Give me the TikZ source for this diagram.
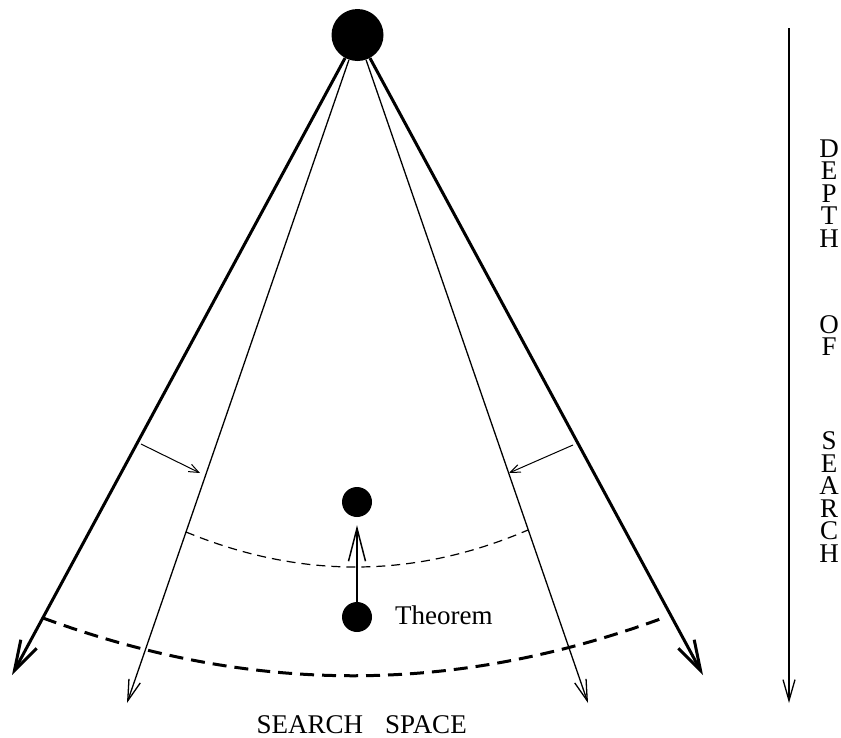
\documentclass[tikz,border=0pt]{standalone}
\usepackage{fontspec}
\setmainfont{Liberation Serif}
\usetikzlibrary{arrows.meta}
\begin{document}
\begin{tikzpicture}[x=1pt,y=-1pt,
  dot/.style={circle,fill=black,draw=none,inner sep=0pt,minimum size=#1},
  thickray/.style={line width=3pt,-{Straight Barb[length=30pt,width=18pt]}},
  thinray/.style={line width=1.3pt,-{Straight Barb[length=21pt,width=12pt]}},
  pusharrow/.style={line width=1pt,-{Straight Barb[length=10pt,width=8pt]}},
  liftarrow/.style={line width=1.5pt,-{Straight Barb[length=33pt,width=17pt]},shorten >=8pt},
  bigdash/.style={line width=3pt,dash pattern=on 14pt off 8pt},
  smalldash/.style={line width=1.2pt,dash pattern=on 9pt off 6pt},
  lbl/.style={font=\fontsize{27}{27}\selectfont,inner sep=0pt}
]
\useasboundingbox (0,0) rectangle (841,737);

% root
\node[dot=52pt] (root) at (357.5,35) {};
% ray tips
\coordinate (tipLL) at (12,675);
\coordinate (tipL) at (127,703);
\coordinate (tipR) at (588,703);
\coordinate (tipRR) at (703,675);
\draw[thickray] (root) -- (tipLL);
\draw[thinray] (root) -- (tipL);
\draw[thinray] (root) -- (tipR);
\draw[thickray] (root) -- (tipRR);

% narrowing arrows
\coordinate (nlA) at (141,444);
\coordinate (nlB) at (200,473);
\coordinate (nrA) at (573,445);
\coordinate (nrB) at (509,473);
\draw[pusharrow] (nlA) -- (nlB);
\draw[pusharrow] (nrA) -- (nrB);

% dashed frontiers
\coordinate (sdL) at (186,532);
\coordinate (sdR) at (528,530);
\draw[smalldash] (sdL) .. controls (300,579) and (414,579) .. (sdR);
\coordinate (bdL) at (43,618);
\coordinate (bdR) at (663,618);
\draw[bigdash] (bdL) .. controls (253,695) and (453,695) .. (bdR);

% theorem nodes
\node[dot=30pt] (goal) at (357,502) {};
\node[dot=30pt] (thm) at (357,617) {};
\draw[liftarrow] (thm) -- (goal);
\node[lbl,anchor=base west] (thmlbl) at (395,624) {Theorem};

% depth axis
\coordinate (axT) at (789,28);
\coordinate (axB) at (789,703);
\draw[thinray] (axT) -- (axB);
\foreach \ch/\yy [count=\i] in {D/157,E/179.5,P/202,T/224.5,H/247,O/333,F/355.5,S/449.5,E/472,A/494.5,R/517,C/539.5,H/562}
  \node[lbl,anchor=base] (dep\i) at (829,\yy) {\ch};

\node[lbl,anchor=base] (space) at (361.7,733) {SEARCH\hspace{22pt}SPACE};
\end{tikzpicture}
\end{document}
